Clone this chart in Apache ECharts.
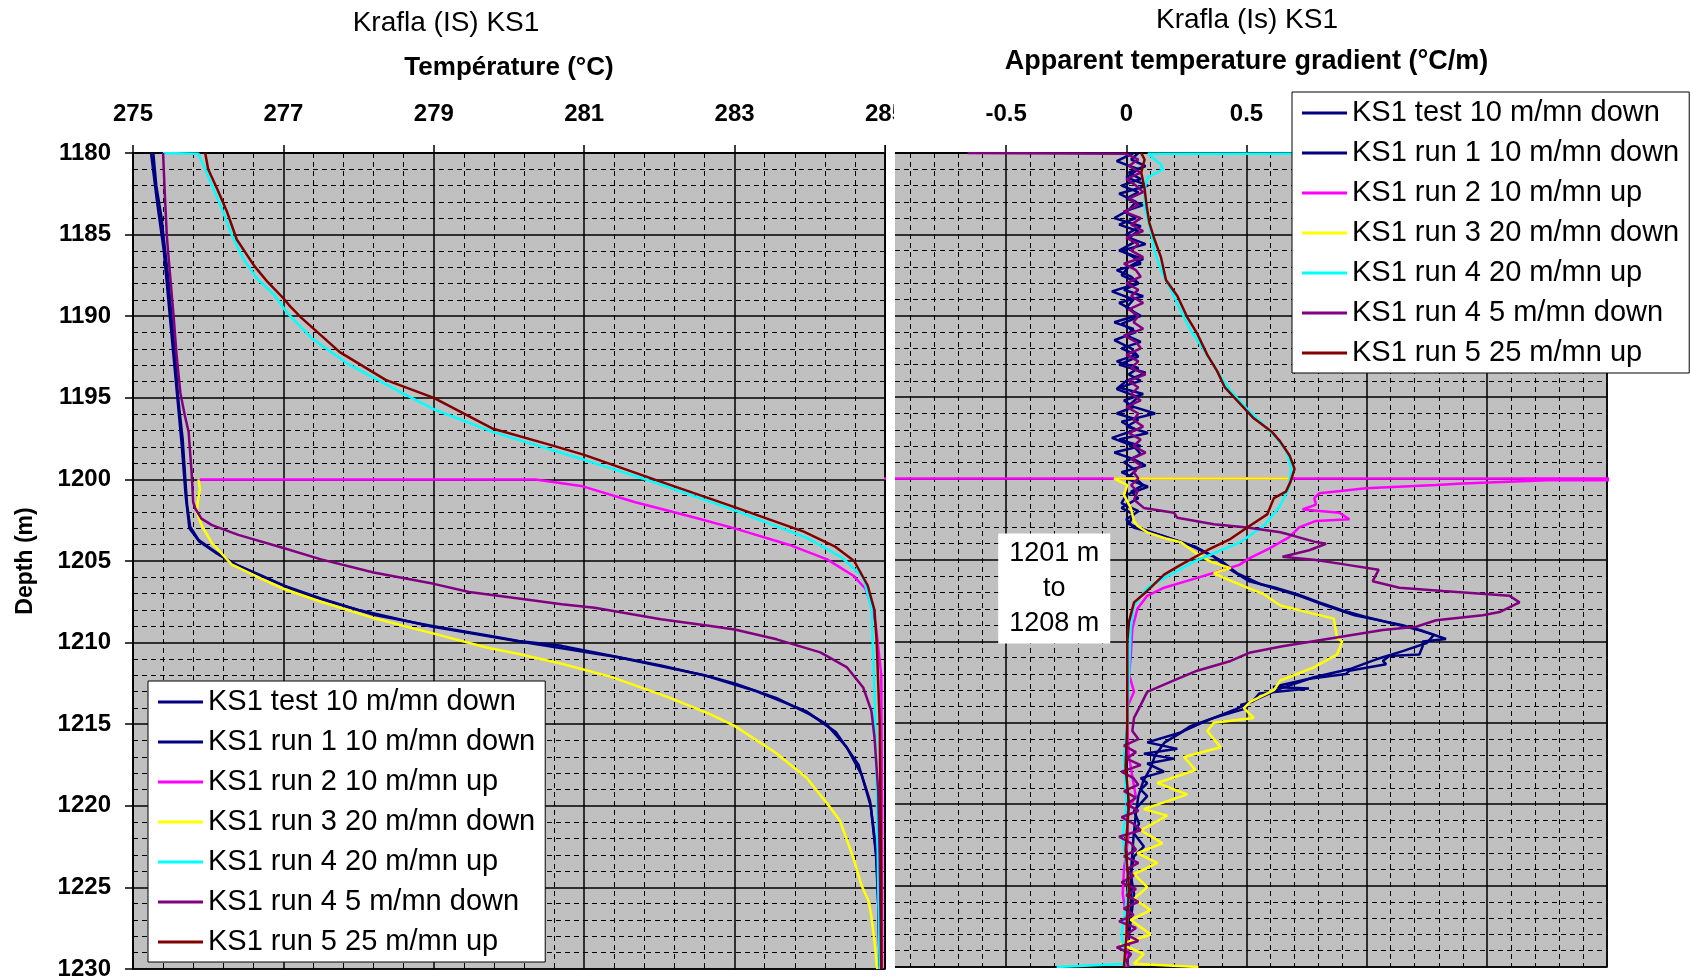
<!DOCTYPE html>
<html>
<head>
<meta charset="utf-8">
<title>Krafla KS1</title>
<script src="https://cdn.jsdelivr.net/npm/echarts@6/dist/echarts.min.js"></script>
<style>
  html, body { margin: 0; padding: 0; background: #fff; }
  #chart { width: 1690px; height: 979px; }
</style>
</head>
<body>
<div id="chart"></div>
<script>
const seriesNames = [
  'KS1 test 10 m/mn down',
  'KS1 run 1 10 m/mn down',
  'KS1 run 2 10 m/mn up',
  'KS1 run 3 20 m/mn down',
  'KS1 run 4 20 m/mn up',
  'KS1 run 4 5 m/mn down',
  'KS1 run 5 25 m/mn up'
]
const seriesColors = ['#000080', '#000080', '#ff00ff', '#ffff00', '#00ffff', '#800080', '#800000']

// temperature logs, [depth m, °C]
const tempTest = [[1180,275.24],[1183,275.32],[1186,275.41],[1190,275.49],[1194,275.57],[1198,275.65],[1201,275.70],[1203,275.75],[1203.8,275.88],[1204.5,276.10],[1205.3,276.40],[1206.2,276.85],[1207,277.25],[1208,278.0],[1209,278.95],[1209.9,280.1],[1210.9,281.45],[1212,282.6],[1213,283.3],[1214.2,283.95],[1215.5,284.35],[1217.5,284.65],[1220,284.81],[1223,284.88],[1226,284.91],[1230,284.93]]
const tempRun1 = [[1180,275.27],[1182,275.31],[1184,275.38],[1185.3,275.41],[1187.7,275.47],[1190,275.51],[1192.4,275.56],[1195,275.60],[1197.5,275.66],[1199.6,275.69],[1201.6,275.72],[1202.9,275.76],[1203.7,275.87],[1204.3,276.05],[1205.1,276.31],[1205.9,276.71],[1206.5,277.0],[1207.3,277.5],[1208.3,278.2],[1209.0,279.0],[1209.55,279.7],[1209.9,280.13],[1210.2,280.7],[1210.8,281.36],[1211.4,282.02],[1212.1,282.68],[1212.5,283.0],[1213.4,283.56],[1214.4,284.0],[1215.0,284.22],[1216.4,284.49],[1218.1,284.69],[1219.7,284.80],[1221.1,284.84],[1223.2,284.89],[1226,284.91],[1230,284.93]]
const tempRun2 = [[1200,275.89],[1200,280.35],[1200.4,280.96],[1201.4,281.68],[1202.3,282.44],[1203.0,283.0],[1204.0,283.72],[1204.9,284.23],[1205.9,284.58],[1206.7,284.74],[1208,284.84],[1209,284.88],[1212,284.95],[1220,284.96],[1230,284.96]]
const tempRun3 = [[1200,275.87],[1200.6,275.89],[1201.4,275.86],[1202.0,275.85],[1202.8,275.91],[1203.9,276.05],[1205.2,276.31],[1206.1,276.71],[1206.7,277.0],[1207.5,277.5],[1208.5,278.2],[1209.45,279.0],[1210.3,279.7],[1210.7,280.13],[1211.3,280.7],[1212.1,281.36],[1213.4,282.15],[1214.4,282.68],[1215.1,283.0],[1216.8,283.56],[1218.3,283.96],[1219.8,284.22],[1220.9,284.40],[1223.2,284.58],[1224.9,284.69],[1225.8,284.78],[1226.8,284.82],[1228.3,284.86],[1229.8,284.89],[1230,284.90]]
const tempRun4 = [[1180,275.40],[1180.05,275.87],[1181.0,275.96],[1182.2,276.07],[1183.4,276.18],[1185.1,276.32],[1186.5,276.47],[1187.7,276.65],[1188.7,276.88],[1189.8,277.05],[1190.7,277.24],[1191.4,277.39],[1192.9,277.85],[1194.8,278.62],[1195.7,279.0],[1197.1,279.79],[1198.8,281.0],[1200.1,281.88],[1201.9,283.0],[1203.6,283.97],[1204.8,284.43],[1206.0,284.71],[1207.9,284.82],[1213,284.86],[1219,284.89],[1225,284.91],[1230,284.93]]
const tempRun45 = [[1180,275.40],[1182.2,275.42],[1185.1,275.45],[1187.3,275.49],[1190.0,275.54],[1192.4,275.58],[1194.7,275.63],[1196.1,275.69],[1197.1,275.74],[1199.6,275.78],[1201.4,275.80],[1201.8,275.83],[1202.4,275.91],[1202.8,276.05],[1203.4,276.4],[1204.2,277.0],[1204.9,277.5],[1205.7,278.2],[1206.4,279.0],[1206.9,279.47],[1207.3,280.13],[1207.65,280.7],[1207.86,281.14],[1208.57,282.02],[1208.98,282.68],[1209.2,283.0],[1209.8,283.56],[1210.6,284.14],[1211.5,284.49],[1212.75,284.71],[1214.2,284.82],[1215.8,284.86],[1219.1,284.91],[1223.2,284.93],[1230,284.95]]
const tempRun5 = [[1180,275.96],[1181.0,276.0],[1182.2,276.12],[1183.6,276.25],[1185.3,276.38],[1186.9,276.61],[1187.9,276.79],[1188.9,277.0],[1189.4,277.09],[1190.1,277.24],[1192.2,277.75],[1193.9,278.36],[1195.0,279.0],[1196.9,279.79],[1197.9,280.56],[1198.5,281.0],[1200.0,281.93],[1201.7,283.0],[1203.2,283.92],[1204.1,284.33],[1205.0,284.59],[1206.5,284.77],[1208,284.86],[1210,284.89],[1215,284.93],[1225,284.95],[1230,284.95]]

// apparent gradient, [depth m, °C/m]
const gradTest = [[1180,0.03],[1180.5,-0.04],[1181,0.05],[1181.5,0.0],[1182,0.09],[1182.5,-0.03],[1183,0.04],[1183.5,0.01],[1184,-0.05],[1184.5,0.06],[1185,0.0],[1185.5,0.03],[1186,-0.03],[1186.5,0.07],[1187,0.01],[1187.5,-0.02],[1188,0.05],[1188.5,-0.06],[1189,0.03],[1189.5,0.0],[1190,0.06],[1190.5,-0.02],[1191,0.04],[1191.5,-0.05],[1192,0.02],[1192.5,0.05],[1193,-0.03],[1193.5,0.08],[1194,0.0],[1194.5,-0.04],[1195,0.05],[1195.5,0.01],[1196,0.12],[1196.5,-0.02],[1197,0.04],[1197.5,-0.06],[1198,0.03],[1198.5,0.06],[1199,-0.01],[1199.5,0.04],[1200,0.0],[1200.5,0.09],[1201,0.0],[1201.5,-0.02],[1202,0.05],[1202.5,0.0],[1203,0.03],[1203.5,0.15],[1204.2,0.29],[1205,0.39],[1205.8,0.46],[1206.5,0.56],[1207.2,0.72],[1207.8,0.83],[1208.4,0.95],[1209,1.15],[1209.6,1.28],[1210.1,1.25],[1210.6,1.15],[1211.1,1.04],[1211.7,0.93],[1212.2,0.78],[1212.9,0.64],[1213.5,0.55],[1214.2,0.45],[1214.9,0.33],[1215.5,0.24],[1216.2,0.16],[1217,0.12],[1217.8,0.10],[1218.6,0.07],[1219.5,0.05],[1220.5,0.04],[1222,0.03],[1224,0.02],[1226,0.02],[1228,0.01],[1230,0.0]]
const gradRun1 = [[1180,0.05],[1180.4,0.02],[1180.8,0.08],[1181.2,0.01],[1181.6,0.06],[1182,-0.02],[1182.4,0.05],[1182.8,0.0],[1183.2,0.07],[1183.6,-0.01],[1184,0.04],[1184.4,-0.03],[1184.8,0.05],[1185.2,0.01],[1185.6,0.08],[1186,-0.02],[1186.4,0.03],[1186.8,0.06],[1187.2,-0.04],[1187.6,0.02],[1188,0.05],[1188.4,-0.01],[1188.8,0.07],[1189.2,-0.03],[1189.6,0.02],[1190,0.04],[1190.4,-0.05],[1190.8,0.03],[1191.2,0.0],[1191.6,0.06],[1192,-0.02],[1192.4,0.04],[1192.8,-0.04],[1193.2,0.05],[1193.6,0.01],[1194,0.06],[1194.4,-0.03],[1194.8,0.07],[1195.2,-0.01],[1195.6,0.03],[1196,-0.04],[1196.4,0.05],[1196.8,0.0],[1197.2,0.09],[1197.6,-0.03],[1198,0.06],[1198.4,-0.05],[1198.8,0.03],[1199.2,0.08],[1199.6,-0.02],[1200,0.04],[1200.4,0.07],[1200.8,0.02],[1201.2,0.05],[1201.8,-0.02],[1202.2,0.03],[1202.8,0.01],[1203.2,0.087],[1204.1,0.267],[1204.8,0.364],[1205.6,0.434],[1206.3,0.511],[1206.7,0.62],[1207.1,0.711],[1207.6,0.803],[1208.1,0.9],[1208.5,0.997],[1208.9,1.108],[1209.35,1.233],[1209.85,1.33],[1210.0,1.233],[1210.3,1.233],[1210.8,1.219],[1210.9,1.094],[1211.2,1.067],[1211.4,1.081],[1211.8,0.928],[1212.0,0.914],[1212.3,0.761],[1212.8,0.61],[1212.9,0.76],[1213.2,0.553],[1213.7,0.525],[1213.9,0.475],[1214.1,0.503],[1214.7,0.364],[1215.2,0.267],[1215.6,0.226],[1216.2,0.087],[1216.6,0.212],[1216.9,0.073],[1217.2,0.198],[1217.5,0.087],[1218.0,0.157],[1218.4,0.060],[1218.7,0.087],[1219.1,0.06],[1219.5,0.087],[1220.4,0.032],[1221.2,0.053],[1221.8,0.032],[1222.6,0.073],[1223.2,0.032],[1224.3,0.018],[1225.5,0.032],[1228,0.011],[1230,0.004]]
const gradRun2 = [[1200,-3],[1200,25],[1200.1,1.75],[1200.3,1.40],[1200.4,1.289],[1200.6,0.997],[1200.9,0.803],[1201.2,0.782],[1201.6,0.789],[1201.9,0.733],[1202.1,0.886],[1202.5,0.928],[1202.6,0.789],[1203.0,0.719],[1203.6,0.678],[1204.3,0.594],[1204.9,0.511],[1205.3,0.47],[1205.6,0.406],[1206.1,0.295],[1206.7,0.157],[1207.2,0.087],[1208.0,0.046],[1208.8,0.032],[1209.2,0.025],[1211.0,0.018],[1212.0,0.011],[1213.1,0.032],[1214,0.005],[1215.1,0.004],[1217,0.01],[1219.5,0.039],[1220.5,0.0],[1222,0.008],[1224,-0.01],[1225.5,-0.015],[1227,0.0],[1229,0.005],[1230,0.0]]
const gradRun3 = [[1200,0.68],[1200,-0.051],[1200.4,0.004],[1201.0,-0.010],[1201.8,0.018],[1202.6,0.032],[1202.9,0.046],[1203.3,0.087],[1203.7,0.170],[1203.9,0.226],[1204.5,0.281],[1205.1,0.350],[1205.5,0.434],[1205.8,0.364],[1206.1,0.406],[1206.7,0.503],[1207.1,0.572],[1207.8,0.641],[1208.2,0.752],[1208.6,0.863],[1209.8,0.877],[1210.0,0.898],[1210.8,0.877],[1211.6,0.780],[1212.4,0.641],[1213.0,0.614],[1213.7,0.517],[1214.1,0.489],[1214.7,0.530],[1215.0,0.364],[1215.5,0.337],[1216.5,0.392],[1217.1,0.240],[1217.9,0.288],[1218.7,0.129],[1219.4,0.253],[1220.3,0.073],[1220.7,0.170],[1221.6,0.060],[1222.4,0.150],[1223.0,0.046],[1223.6,0.129],[1224.3,0.032],[1225.1,0.087],[1225.8,0.032],[1226.5,0.101],[1227.1,0.018],[1228.0,0.101],[1228.6,-0.024],[1229.2,0.073],[1229.8,0.032],[1230,0.30]]
const gradRun4 = [[1180,5],[1180.05,0.09],[1180.7,0.144],[1181.0,0.151],[1181.5,0.089],[1182.2,0.076],[1183.3,0.076],[1184.9,0.103],[1186.0,0.117],[1187.2,0.144],[1188.4,0.185],[1189.7,0.227],[1190.9,0.268],[1192.1,0.323],[1193.4,0.378],[1194.6,0.433],[1195.7,0.501],[1196.7,0.570],[1197.5,0.625],[1198.3,0.666],[1199.4,0.687],[1200.0,0.68],[1200.6,0.676],[1201.8,0.634],[1202.9,0.572],[1203.9,0.475],[1204.5,0.378],[1205.1,0.281],[1205.9,0.184],[1206.7,0.087],[1207.8,0.032],[1209.2,0.018],[1212.0,0.011],[1215.1,0.004],[1217,-0.01],[1220,0.0],[1222,-0.015],[1225,0.01],[1228,-0.02],[1229.8,0.0],[1230,-0.29]]
const gradRun45 = [[1180,-0.66],[1180.05,0.0],[1180.4,0.05],[1180.8,0.01],[1181.2,0.06],[1181.6,0.0],[1182,0.04],[1182.4,0.07],[1182.8,0.01],[1183.2,0.05],[1183.6,-0.01],[1184,0.06],[1184.4,0.02],[1184.8,0.07],[1185.2,0.0],[1185.6,0.05],[1186,0.02],[1186.4,0.07],[1186.8,-0.01],[1187.2,0.04],[1187.6,0.06],[1188,0.0],[1188.4,0.05],[1188.8,0.02],[1189.2,0.07],[1189.6,0.01],[1190,0.05],[1190.4,0.03],[1190.8,0.07],[1191.2,-0.01],[1191.6,0.04],[1192,0.06],[1192.4,0.0],[1192.8,0.05],[1193.2,0.02],[1193.6,0.08],[1194,0.01],[1194.4,0.05],[1194.8,0.02],[1195.2,0.06],[1195.6,0.0],[1196,0.05],[1196.4,0.03],[1196.8,0.07],[1197.2,0.01],[1197.6,0.06],[1198,0.03],[1198.4,0.08],[1198.8,0.02],[1199.2,0.06],[1199.6,0.03],[1200,0.05],[1200.4,0.02],[1200.8,0.046],[1201.3,0.032],[1201.8,0.073],[1202.1,0.198],[1202.4,0.212],[1202.8,0.364],[1203.0,0.503],[1203.3,0.641],[1203.5,0.692],[1203.9,0.789],[1204.0,0.831],[1204.4,0.761],[1204.8,0.65],[1205.0,0.789],[1205.3,0.92],[1205.6,1.05],[1206.3,1.025],[1206.7,1.136],[1206.9,1.317],[1207.2,1.594],[1207.6,1.636],[1208.2,1.553],[1208.4,1.483],[1208.7,1.289],[1209.1,1.206],[1209.3,1.067],[1209.9,0.817],[1210.3,0.65],[1210.7,0.511],[1211.2,0.434],[1211.8,0.295],[1212.4,0.198],[1213.1,0.087],[1213.9,0.06],[1214.7,0.032],[1215.5,0.025],[1216,0.05],[1216.4,-0.01],[1216.8,0.04],[1217.2,0.0],[1217.6,0.06],[1218,-0.02],[1218.4,0.03],[1218.8,0.05],[1219.2,-0.01],[1219.6,0.04],[1220,0.0],[1220.4,0.05],[1220.8,-0.02],[1221.2,0.03],[1221.6,0.06],[1222,-0.03],[1222.4,0.02],[1222.8,0.04],[1223.2,-0.01],[1223.6,0.05],[1224,0.0],[1224.4,0.03],[1224.8,-0.02],[1225.2,0.04],[1225.6,0.0],[1226,0.05],[1226.4,-0.01],[1226.8,0.03],[1227.2,-0.03],[1227.6,0.04],[1228,0.0],[1228.4,0.05],[1228.8,-0.04],[1229.2,0.02],[1229.6,0.0],[1230,0.01]]
const gradRun5 = [[1180,0.062],[1180.4,0.076],[1181.2,0.062],[1182.2,0.076],[1183.3,0.085],[1184.3,0.096],[1185.3,0.117],[1186.4,0.144],[1187.8,0.165],[1188.8,0.213],[1190.1,0.254],[1191.1,0.295],[1192.4,0.337],[1193.4,0.378],[1194.4,0.41],[1195.2,0.46],[1196.3,0.53],[1197.1,0.604],[1197.7,0.639],[1198.6,0.680],[1199.4,0.70],[1200.2,0.683],[1200.8,0.664],[1201.2,0.614],[1202.2,0.586],[1203.0,0.503],[1203.7,0.434],[1204.4,0.337],[1205.3,0.226],[1205.9,0.157],[1206.9,0.087],[1207.6,0.032],[1208.8,0.011],[1210,0.004],[1212,0.004],[1215,0.004],[1217.7,-0.003],[1220,0.011],[1222.8,-0.003],[1225.1,0.011],[1228,0.001],[1230,-0.01]]

const tempData = [tempTest, tempRun1, tempRun2, tempRun3, tempRun4, tempRun45, tempRun5]
const gradData = [gradTest, gradRun1, gradRun2, gradRun3, gradRun4, gradRun45, gradRun5]

const FONT = "'Liberation Sans', Arial, sans-serif"

const tickLabel = { color: '#000', fontFamily: FONT, fontSize: 24, fontWeight: 'bold' }
const majorLine = { show: true, lineStyle: { color: '#000', width: 1.5 } }
const minorLine = { show: true, lineStyle: { color: '#000', width: 1, type: [5, 4] } }
const blackLine = { show: true, lineStyle: { color: '#000', width: 1.5 } }
const outTick = { show: true, inside: false, length: 8, lineStyle: { color: '#000', width: 1.5 } }

const depthAxis = (idx, withLabels) => ({
  gridIndex: idx,
  type: 'value',
  inverse: true,
  min: 1180,
  max: 1230,
  interval: 5,
  name: withLabels ? 'Depth (m)' : '',
  nameLocation: 'middle',
  nameRotate: 90,
  nameGap: 96,
  nameTextStyle: { color: '#000', fontFamily: FONT, fontSize: 23, fontWeight: 'bold' },
  axisLine: blackLine,
  axisTick: withLabels ? outTick : { show: false },
  axisLabel: withLabels ? { ...tickLabel, margin: 22, formatter: v => String(v) } : { show: false },
  splitLine: majorLine,
  minorTick: { show: false, splitNumber: 5 },
  minorSplitLine: minorLine
})

const line = (name, color, idx, rows) => ({
  name,
  type: 'line',
  xAxisIndex: idx,
  yAxisIndex: idx,
  data: rows.map(r => [r[1], r[0]]),
  showSymbol: false,
  symbol: 'none',
  clip: true,
  lineStyle: { color, width: 2.5 },
  itemStyle: { color },
  emphasis: { disabled: true }
})

const series = []
seriesNames.forEach((name, i) => series.push(line(name, seriesColors[i], 0, tempData[i])))
seriesNames.forEach((name, i) => series.push(line(name, seriesColors[i], 1, gradData[i])))

const legendBase = {
  orient: 'vertical',
  icon: 'rect',
  itemWidth: 45,
  itemHeight: 3,
  itemGap: 10,
  backgroundColor: '#fff',
  borderColor: '#000',
  borderWidth: 1,
  borderRadius: 0,
  padding: [6, 10, 5, 10],
  selectedMode: false,
  textStyle: { color: '#000', fontFamily: FONT, fontSize: 29, lineHeight: 30 },
  data: seriesNames
}

const titleStyle = { color: '#000', fontFamily: FONT, fontSize: 28, fontWeight: 'normal' }

const chart = echarts.init(document.getElementById('chart'))

chart.setOption({
  animation: false,
  backgroundColor: '#fff',
  title: [
    { text: 'Krafla (IS) KS1', left: 446, top: 9, textAlign: 'center', padding: 0, textStyle: titleStyle },
    { text: 'Krafla (Is) KS1', left: 1247, top: 6, textAlign: 'center', padding: 0, textStyle: titleStyle }
  ],
  legend: [
    { ...legendBase, left: 148, top: 681 },
    { ...legendBase, left: 1292, top: 92 }
  ],
  grid: [
    { left: 133, top: 153, width: 752, height: 816, show: true, backgroundColor: '#c0c0c0', borderColor: '#000', borderWidth: 1.5, containLabel: false, outerBoundsMode: 'none' },
    { left: 886, top: 153, width: 721, height: 814, show: true, backgroundColor: '#c0c0c0', borderColor: '#000', borderWidth: 1.5, containLabel: false, outerBoundsMode: 'none' }
  ],
  xAxis: [
    {
      gridIndex: 0,
      type: 'value',
      position: 'top',
      min: 275,
      max: 285,
      interval: 2,
      name: 'Température (°C)',
      nameLocation: 'middle',
      nameGap: 72,
      nameTextStyle: { color: '#000', fontFamily: FONT, fontSize: 26, fontWeight: 'bold' },
      axisLine: blackLine,
      axisTick: outTick,
      axisLabel: { ...tickLabel, margin: 27, showMinLabel: true, showMaxLabel: true },
      splitLine: majorLine,
      minorTick: { show: false, splitNumber: 5 },
      minorSplitLine: minorLine
    },
    {
      gridIndex: 1,
      type: 'value',
      position: 'top',
      min: -1,
      max: 2,
      interval: 0.5,
      name: 'Apparent temperature gradient (°C/m)',
      nameLocation: 'middle',
      nameGap: 78,
      nameTextStyle: { color: '#000', fontFamily: FONT, fontSize: 27, fontWeight: 'bold' },
      axisLine: blackLine,
      axisTick: outTick,
      axisLabel: { ...tickLabel, margin: 27, formatter: v => (Math.abs(v + 1) < 1e-9 ? '' : String(v)) },
      splitLine: majorLine,
      minorTick: { show: false, splitNumber: 5 },
      minorSplitLine: minorLine
    }
  ],
  yAxis: [depthAxis(0, true), depthAxis(1, false)],
  series
})

// note box in the gradient panel, anchored in data units
const [boxX, boxY] = chart.convertToPixel({ gridIndex: 1 }, [-0.3, 1206.75])

chart.setOption({
  graphic: [
    // the right panel was cut on its left side in the source figure
    { type: 'rect', z: 100, shape: { x: 886, y: 140, width: 9, height: 835 }, style: { fill: '#fff' } },
    { type: 'rect', z: 100, shape: { x: 894, y: 92, width: 30, height: 40 }, style: { fill: '#fff' } },
    {
      type: 'group',
      x: boxX,
      y: boxY,
      z: 100,
      children: [
        { type: 'rect', shape: { x: -56, y: -55, width: 112, height: 110 }, style: { fill: '#fff' } },
        {
          type: 'text',
          style: {
            text: '1201 m\nto\n1208 m',
            x: 0,
            y: 0,
            align: 'center',
            verticalAlign: 'middle',
            font: "27px 'Liberation Sans', Arial, sans-serif",
            lineHeight: 35,
            fill: '#000'
          }
        }
      ]
    }
  ]
})

window.addEventListener('resize', () => chart.resize())
</script>
</body>
</html>
